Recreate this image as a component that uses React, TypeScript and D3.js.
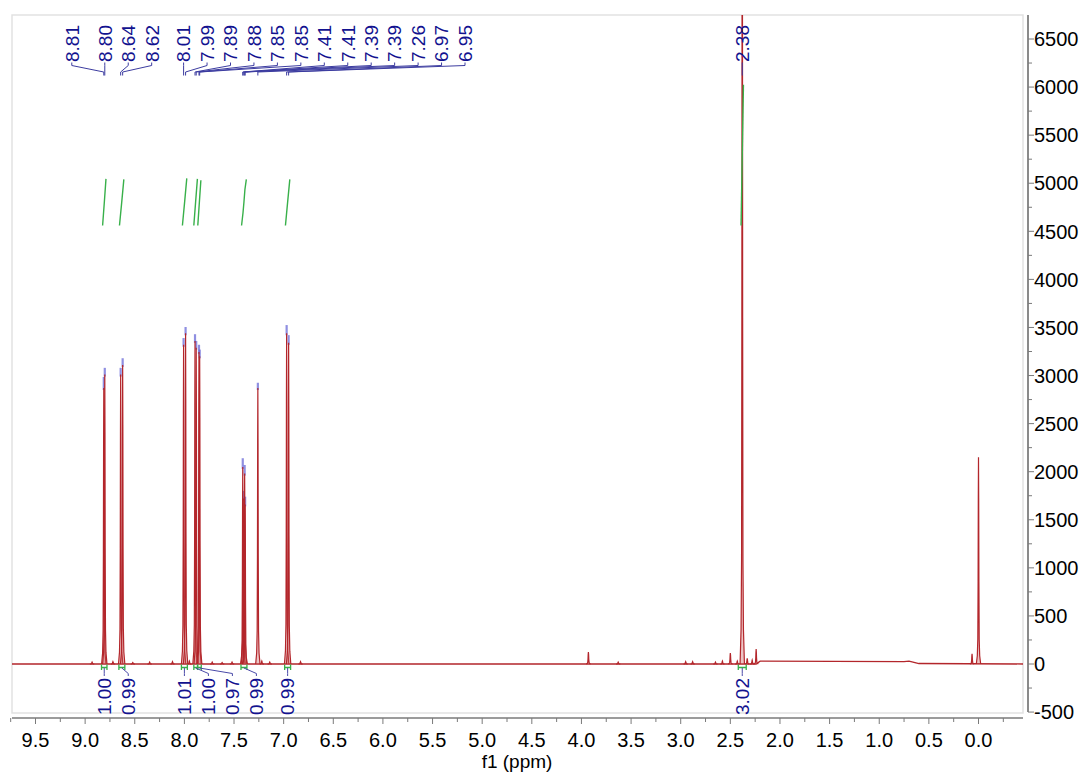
import * as d3 from "d3";
import { useEffect, useRef } from "react";

// picked peaks (ppm), their labels and red / blue apex heights
const peakPpm = [8.812, 8.802, 8.642, 8.622, 8.008, 7.988, 7.893, 7.881, 7.853, 7.846, 7.412, 7.407, 7.393, 7.388, 7.26, 6.97, 6.95, 2.38];
const peakLabels = ["8.81", "8.80", "8.64", "8.62", "8.01", "7.99", "7.89", "7.88", "7.85", "7.85", "7.41", "7.41", "7.39", "7.39", "7.26", "6.97", "6.95", "2.38"];
const peakHeight = [2870, 3010, 3010, 3110, 3320, 3440, 3360, 3290, 3245, 3200, 2050, 1720, 1980, 1660, 2870, 3440, 3340, 9000];
const tipHeight = [2985, 3080, 3080, 3180, 3390, 3505, 3430, 3360, 3320, 3270, 2140, 1800, 2070, 1740, 2925, 3525, 3420, 9000];

// unpicked small lines + TMS
const otherPpm = [8.93, 8.72, 8.52, 8.35, 8.12, 7.95, 7.72, 7.62, 7.52, 7.22, 7.14, 6.83, 3.93, 3.63, 2.95, 2.88, 2.65, 2.58, 2.5, 2.43, 2.33, 2.28, 2.24, 0.065, 0.0];
const otherHeight = [20, 25, 15, 20, 25, 30, 20, 15, 20, 30, 20, 25, 125, 20, 25, 25, 20, 30, 115, 30, 60, 40, 155, 105, 2150];

// baseline drift
const baselinePpm = [9.75, 2.24, 2.2, 0.75, 0.7, 0.6, -0.45];
const baselineVal = [0, 0, 30, 25, 30, 5, 0];

// integrals
const integralFrom = [8.835, 8.66, 8.03, 7.905, 7.866, 7.43, 6.99, 2.42];
const integralTo = [8.78, 8.6, 7.97, 7.868, 7.83, 7.37, 6.93, 2.34];
const integralValue = ["1.00", "0.99", "1.01", "1.00", "0.97", "0.99", "0.99", "3.02"];

const xTicks = d3.range(0, 20).map((i) => 9.5 - i * 0.5);
const yTicks = d3.range(-500, 7000, 500);

const FONT = "'Liberation Sans', Arial, sans-serif";
const RED = "#b3262b";
const NAVY = "#12128f";
const GREEN = "#38b04a";

// normalised line shape: [ppm offset, fraction of height]
const shape: [number, number][] = [
  [0.022, 0], [0.012, 0.04], [0.007, 0.12], [0.004, 0.4], [0.002, 0.8], [0, 1],
  [-0.002, 0.8], [-0.004, 0.4], [-0.007, 0.12], [-0.012, 0.04], [-0.022, 0],
];

const App = () => {
  const ref = useRef<SVGSVGElement | null>(null);

  useEffect(() => {
    draw();
  }, []);

  const draw = () => {
    if (!ref.current) return;
    const svg = d3.select(ref.current);
    svg.selectAll("*").remove();

    const frame = { left: 12, right: 1023, top: 15, bottom: 713 };
    const x = d3.scaleLinear().domain([9.5, 0]).range([35.5, 978.5]);
    const y = d3.scaleLinear().domain([0, 6500]).range([664, 39]);

    svg.append("rect").attr("width", 1083).attr("height", 774).attr("fill", "#fff");

    svg
      .append("defs")
      .append("clipPath")
      .attr("id", "plot")
      .append("rect")
      .attr("x", frame.left)
      .attr("y", frame.top)
      .attr("width", frame.right - frame.left)
      .attr("height", frame.bottom - frame.top);

    svg
      .append("rect")
      .attr("x", frame.left)
      .attr("y", frame.top)
      .attr("width", frame.right - frame.left)
      .attr("height", frame.bottom - frame.top)
      .attr("fill", "none")
      .attr("stroke", "#e2e2e2")
      .attr("stroke-width", 1.5);

    const plot = svg.append("g").attr("clip-path", "url(#plot)");

    const line = d3
      .line<[number, number]>()
      .x((d) => x(d[0]))
      .y((d) => y(d[1]));

    // baseline
    plot
      .append("path")
      .attr("d", line(baselinePpm.map((p, i) => [p, baselineVal[i]])))
      .attr("fill", "none")
      .attr("stroke", RED)
      .attr("stroke-width", 1.3);

    // blue apex tips of picked peaks
    plot
      .append("g")
      .selectAll("line")
      .data(peakPpm.slice(0, -1))
      .join("line")
      .attr("x1", (d) => x(d))
      .attr("x2", (d) => x(d))
      .attr("y1", (_, i) => y(peakHeight[i]) + 2)
      .attr("y2", (_, i) => y(tipHeight[i]))
      .attr("stroke", "#6a6ad8")
      .attr("stroke-width", 2.2)
      .attr("opacity", 0.75);

    const spikes = [
      ...peakPpm.map((p, i) => ({ p, h: peakHeight[i] })),
      ...otherPpm.map((p, i) => ({ p, h: otherHeight[i] })),
    ];
    plot
      .append("g")
      .selectAll("path")
      .data(spikes)
      .join("path")
      .attr("d", (d) => line(shape.map(([dx, f]) => [d.p + dx, f * d.h])))
      .attr("fill", "rgba(200,90,90,0.35)")
      .attr("stroke", RED)
      .attr("stroke-width", 1.2);

    // integral curves
    const intBase = 4560;
    const intScale = 485;
    integralValue.forEach((v, k) => {
      const hi = integralFrom[k];
      const lo = integralTo[k];
      const idx = peakPpm.map((p, i) => i).filter((i) => peakPpm[i] <= hi && peakPpm[i] >= lo);
      const total = d3.sum(idx, (i) => peakHeight[i]);
      const top = intBase + +v * intScale;
      const pts: [number, number][] = [];
      let cum = 0;
      idx.forEach((i, j) => {
        const prev = j > 0 ? peakPpm[idx[j - 1]] - peakPpm[i] : 1;
        const next = j < idx.length - 1 ? peakPpm[i] - peakPpm[idx[j + 1]] : 1;
        const w1 = Math.min(0.012, prev / 2);
        const w2 = Math.min(0.012, next / 2);
        pts.push([peakPpm[i] + w1, intBase + (cum / total) * (top - intBase)]);
        cum += peakHeight[i];
        pts.push([peakPpm[i] - w2, intBase + (cum / total) * (top - intBase)]);
      });
      plot
        .append("path")
        .attr("d", line(pts))
        .attr("fill", "none")
        .attr("stroke", GREEN)
        .attr("stroke-width", 1.4);
    });

    // integral brackets at baseline
    const br = svg.append("g").attr("stroke", GREEN).attr("stroke-width", 1.3).attr("fill", "none");
    integralValue.forEach((_, k) => {
      const a = x(integralFrom[k]);
      const b = x(integralTo[k]);
      br.append("path").attr("d", `M${a},664.5V670M${a},667.5H${b}M${b},664.5V670`);
    });

    // integral labels (bottom)
    const intLx: number[] = [];
    integralValue.forEach((_, k) => {
      const c = x((integralFrom[k] + integralTo[k]) / 2);
      intLx.push(k === 0 ? c : Math.max(c, intLx[k - 1] + 24));
    });
    const il = svg.append("g");
    integralValue.forEach((v, k) => {
      const c = x((integralFrom[k] + integralTo[k]) / 2);
      il.append("path")
        .attr("d", `M${c},668L${intLx[k]},673.5V676`)
        .attr("fill", "none")
        .attr("stroke", "#4a4aa8")
        .attr("stroke-width", 1);
      il.append("text")
        .attr("transform", `translate(${intLx[k]},715) rotate(-90)`)
        .attr("text-anchor", "start")
        .attr("dy", "0.36em")
        .attr("font-family", FONT)
        .attr("font-size", 19)
        .attr("fill", NAVY)
        .text(v);
    });

    // peak labels (top)
    const pkLx: number[] = [];
    peakPpm.forEach((p, i) => {
      const px = x(p);
      pkLx.push(i === 0 ? px - 32 : Math.max(px, pkLx[i - 1] + 23.45));
    });
    const pl = svg.append("g");
    peakPpm.forEach((p, i) => {
      const px = x(p);
      pl.append("path")
        .attr("d", `M${pkLx[i]},62.5V65.5L${px},72V75.5`)
        .attr("fill", "none")
        .attr("stroke", "#3c3ca0")
        .attr("stroke-width", 1);
      pl.append("text")
        .attr("transform", `translate(${pkLx[i]},62) rotate(-90)`)
        .attr("text-anchor", "start")
        .attr("dy", "0.36em")
        .attr("font-family", FONT)
        .attr("font-size", 19)
        .attr("fill", NAVY)
        .text(peakLabels[i]);
    });

    // bottom axis
    const xa = svg.append("g").attr("transform", "translate(0,718)");
    xa.append("line")
      .attr("x1", frame.left)
      .attr("x2", frame.right)
      .attr("stroke", "#7a7a7a")
      .attr("stroke-width", 1.5);
    xa.append("g")
      .selectAll("line")
      .data(xTicks.map((t) => t - 0.25).concat([9.75]))
      .join("line")
      .attr("x1", (d) => x(d))
      .attr("x2", (d) => x(d))
      .attr("y2", 4)
      .attr("stroke", "#7a7a7a");
    xa.append("g")
      .selectAll("line")
      .data(xTicks)
      .join("line")
      .attr("x1", (d) => x(d))
      .attr("x2", (d) => x(d))
      .attr("y2", 6)
      .attr("stroke", "#7a7a7a");
    xa.append("g")
      .selectAll("text")
      .data(xTicks)
      .join("text")
      .attr("x", (d) => x(d))
      .attr("y", 29)
      .attr("text-anchor", "middle")
      .attr("font-family", FONT)
      .attr("font-size", 20)
      .attr("fill", "#000")
      .text((d) => d3.format(".1f")(d));
    svg
      .append("text")
      .attr("x", 517)
      .attr("y", 768)
      .attr("text-anchor", "middle")
      .attr("font-family", FONT)
      .attr("font-size", 19)
      .attr("fill", "#000")
      .text("f1 (ppm)");

    // right axis
    const ya = svg.append("g").attr("transform", "translate(1028,0)");
    ya.append("line")
      .attr("y1", frame.top)
      .attr("y2", y(-500))
      .attr("stroke", "#8a8a8a")
      .attr("stroke-width", 2);
    ya.append("g")
      .selectAll("line")
      .data(yTicks.slice(0, -1).map((t) => t + 250))
      .join("line")
      .attr("y1", (d) => y(d))
      .attr("y2", (d) => y(d))
      .attr("x2", 4)
      .attr("stroke", "#7a7a7a");
    ya.append("g")
      .selectAll("line")
      .data(yTicks)
      .join("line")
      .attr("y1", (d) => y(d))
      .attr("y2", (d) => y(d))
      .attr("x2", 6)
      .attr("stroke", "#7a7a7a");
    ya.append("g")
      .selectAll("text")
      .data(yTicks)
      .join("text")
      .attr("x", 6)
      .attr("y", (d) => y(d))
      .attr("dy", "0.36em")
      .attr("font-family", FONT)
      .attr("font-size", 20)
      .attr("fill", "#000")
      .text((d) => String(d));
  };

  return <svg ref={ref} width={1083} height={774} style={{ position: "absolute", left: 0, top: 0 }} />;
};

export default App;
